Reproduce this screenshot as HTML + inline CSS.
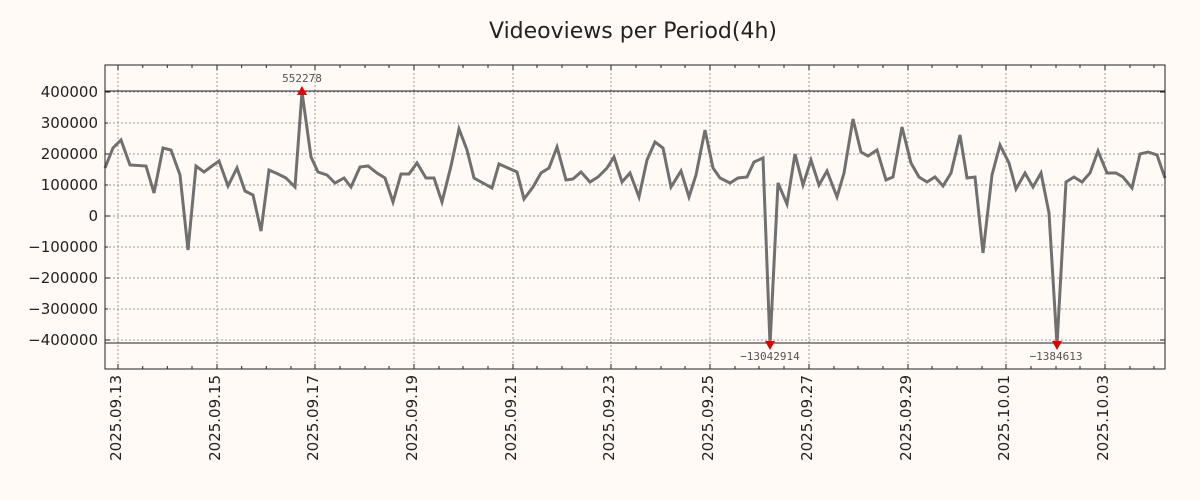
<!DOCTYPE html>
<html><head><meta charset="utf-8"><style>
body{margin:0;background:#fffaf5;}
svg{display:block;font-family:"DejaVu Sans","Liberation Sans",sans-serif;}
</style></head><body>
<svg width="1200" height="500" viewBox="0 0 1200 500" xmlns="http://www.w3.org/2000/svg">
<rect width="1200" height="500" fill="#fffaf5"/>
<text x="633" y="38" font-size="22" text-anchor="middle" fill="#222">Videoviews per Period(4h)</text>
<g stroke="#999" stroke-width="1" stroke-dasharray="2,2">
<line x1="105" x2="1165" y1="92" y2="92"/><line x1="105" x2="1165" y1="123" y2="123"/><line x1="105" x2="1165" y1="154" y2="154"/><line x1="105" x2="1165" y1="185" y2="185"/><line x1="105" x2="1165" y1="216" y2="216"/><line x1="105" x2="1165" y1="247" y2="247"/><line x1="105" x2="1165" y1="278" y2="278"/><line x1="105" x2="1165" y1="309" y2="309"/><line x1="105" x2="1165" y1="340" y2="340"/>
<line y1="65" y2="369" x1="118" x2="118"/><line y1="65" y2="369" x1="217" x2="217"/><line y1="65" y2="369" x1="315" x2="315"/><line y1="65" y2="369" x1="414" x2="414"/><line y1="65" y2="369" x1="513" x2="513"/><line y1="65" y2="369" x1="611" x2="611"/><line y1="65" y2="369" x1="710" x2="710"/><line y1="65" y2="369" x1="809" x2="809"/><line y1="65" y2="369" x1="908" x2="908"/><line y1="65" y2="369" x1="1006" x2="1006"/><line y1="65" y2="369" x1="1105" x2="1105"/>
</g>
<g stroke="#222" stroke-width="1">
<line x1="105" x2="1165" y1="91" y2="91"/><line x1="105" x2="1165" y1="343" y2="343"/>
</g>
<g stroke="#222" stroke-width="1">
<path d="M105 92h5M105 123h3M105 154h5M105 185h3M105 216h5M105 247h3M105 278h5M105 309h3M105 340h5M1165 92h-5M1165 154h-5M1165 216h-5M1165 278h-5M1165 340h-5"/>
<path d="M118 65v5M217 65v5M315 65v5M414 65v5M513 65v5M611 65v5M710 65v5M809 65v5M908 65v5M1006 65v5M1105 65v5M118 369v-5M217 369v-5M315 369v-5M414 369v-5M513 369v-5M611 369v-5M710 369v-5M809 369v-5M908 369v-5M1006 369v-5M1105 369v-5"/>
<path d="M142.7 65v3M167.3 65v3M192 65v3M241.7 65v3M266.3 65v3M291 65v3M340 65v3M365 65v3M389 65v3M439 65v3M463 65v3M488 65v3M537 65v3M562 65v3M587 65v3M636 65v3M661 65v3M685 65v3M735 65v3M759 65v3M784 65v3M834 65v3M858 65v3M883 65v3M932 65v3M957 65v3M982 65v3M1031 65v3M1056 65v3M1080 65v3M1130 65v3M1154 65v3M142.7 369v-3M167.3 369v-3M192 369v-3M241.7 369v-3M266.3 369v-3M291 369v-3M340 369v-3M365 369v-3M389 369v-3M439 369v-3M463 369v-3M488 369v-3M537 369v-3M562 369v-3M587 369v-3M636 369v-3M661 369v-3M685 369v-3M735 369v-3M759 369v-3M784 369v-3M834 369v-3M858 369v-3M883 369v-3M932 369v-3M957 369v-3M982 369v-3M1031 369v-3M1056 369v-3M1080 369v-3M1130 369v-3M1154 369v-3"/>
</g>
<polyline fill="none" stroke="#707070" stroke-width="3" points="105,168 113,148 121,140 130,165 146,166 154,193 163,148 171,150 180,175 188,250 196,166 204,172 212,166 219,161 228,186 237,168 245,191 253,195 261,231 269,170 278,174 286,178 295,187 302,92 311,157 318,172 327,175 335,183 344,178 351,187 360,167 368,166 377,173 385,178 393,202 401,174 409,174 417,163 426,178 434,178 442,202 451,166 459,129 467,150 474,178 483,183 492,188 499,164 508,168 517,172 524,199 533,187 541,173 549,168 557,147 566,180 573,179 581,172 590,182 598,177 607,168 614,157 622,182 630,173 639,197 647,160 655,142 663,148 671,187 681,171 689,197 696,175 705,130 713,168 720,178 730,183 738,178 747,177 754,162 763,158 770,345 778,183 787,204 795,154 803,185 811,160 819,185 827,171 837,197 844,173 853,119 861,152 868,156 877,150 886,180 893,177 902,127 911,163 919,177 927,182 935,177 943,186 951,173 960,135 967,178 975,177 983,253 992,175 1000,145 1009,163 1016,189 1025,173 1033,187 1041,173 1049,213 1057,345 1066,182 1074,177 1082,182 1090,173 1098,151 1107,173 1116,173 1123,177 1132,188 1140,154 1148,152 1157,155 1165,178"/>
<rect x="105" y="65" width="1060" height="304" fill="none" stroke="#222" stroke-width="1"/>
<polygon points="297,95 307,95 302,86" fill="#e00000"/>
<polygon points="765,341 775,341 770,350" fill="#e00000"/>
<polygon points="1052,341 1062,341 1057,350" fill="#e00000"/>
<g font-family="'DejaVu Sans Mono','Liberation Mono',monospace" font-size="11" fill="#555" text-anchor="middle">
<text x="302" y="82">552278</text>
<text x="770" y="360">−13042914</text>
<text x="1056" y="360">−1384613</text>
</g>
<g font-size="15" fill="#222" text-anchor="end">
<text x="98" y="97">400000</text><text x="98" y="128">300000</text><text x="98" y="159">200000</text><text x="98" y="190">100000</text><text x="98" y="221">0</text><text x="98" y="252">−100000</text><text x="98" y="283">−200000</text><text x="98" y="314">−300000</text><text x="98" y="345">−400000</text>
</g>
<g font-size="15" fill="#222" text-anchor="end">
<text transform="translate(121,375) rotate(-90)">2025.09.13</text>
<text transform="translate(220,375) rotate(-90)">2025.09.15</text>
<text transform="translate(318,375) rotate(-90)">2025.09.17</text>
<text transform="translate(417,375) rotate(-90)">2025.09.19</text>
<text transform="translate(516,375) rotate(-90)">2025.09.21</text>
<text transform="translate(614,375) rotate(-90)">2025.09.23</text>
<text transform="translate(713,375) rotate(-90)">2025.09.25</text>
<text transform="translate(812,375) rotate(-90)">2025.09.27</text>
<text transform="translate(911,375) rotate(-90)">2025.09.29</text>
<text transform="translate(1009,375) rotate(-90)">2025.10.01</text>
<text transform="translate(1108,375) rotate(-90)">2025.10.03</text>
</g>
</svg>
</body></html>
